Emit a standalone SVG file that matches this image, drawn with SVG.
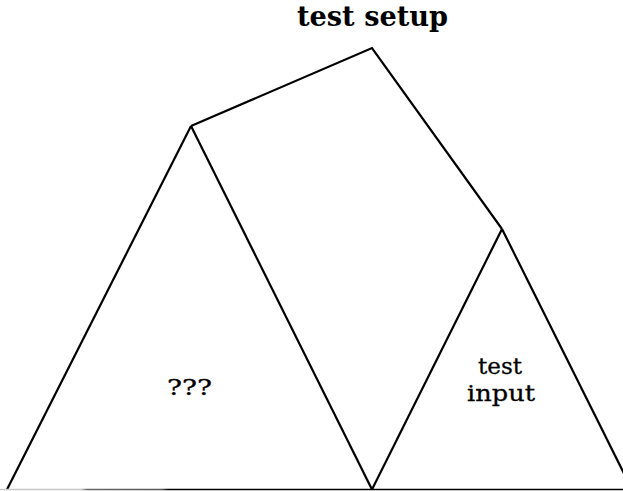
<svg xmlns="http://www.w3.org/2000/svg" width="623" height="491" viewBox="0 0 623 491">
  <style>
    .edge { fill: none; stroke: #000; stroke-width: 2.2; stroke-linejoin: miter; stroke-linecap: butt; }
    .label { font-family: "DejaVu Serif", "Liberation Serif", serif; fill: #000; text-anchor: middle; }
    .title { font-weight: bold; font-size: 27px; }
    .body { font-size: 23px; stroke: #000; stroke-width: 0.3; }
  </style>
  <defs>
    <linearGradient id="baseFade" x1="0" y1="0" x2="623" y2="0" gradientUnits="userSpaceOnUse">
      <stop offset="0" stop-color="#c8c8c8"/>
      <stop offset="0.13" stop-color="#c8c8c8"/>
      <stop offset="0.14" stop-color="#666"/>
      <stop offset="0.26" stop-color="#555"/>
      <stop offset="0.27" stop-color="#000"/>
      <stop offset="1" stop-color="#000"/>
    </linearGradient>
  </defs>

  <rect width="623" height="491" fill="#fff"/>

  <g id="connectors">
    <!-- roof -->
    <polyline class="edge" points="191,126 372,48 502,229"/>
    <!-- left triangle -->
    <line class="edge" x1="191" y1="126" x2="7" y2="489.5"/>
    <line class="edge" x1="191" y1="126" x2="372" y2="489.5"/>
    <!-- right triangle -->
    <line class="edge" x1="502" y1="229" x2="372" y2="489.5"/>
    <line class="edge" x1="502" y1="229" x2="632" y2="489.5"/>
    <!-- ground line -->
    <line x1="0" y1="489.5" x2="623" y2="489.5" stroke="url(#baseFade)" stroke-width="1.6"/>
  </g>

  <g id="test-setup">
    <text class="label title" x="372.5" y="26" textLength="151" lengthAdjust="spacingAndGlyphs">test setup</text>
  </g>

  <g id="unknown">
    <text class="label body" x="189.5" y="395" font-size="30" textLength="45" lengthAdjust="spacingAndGlyphs">???</text>
  </g>

  <g id="test-input">
    <text class="label body"><tspan x="500" y="374" textLength="44" lengthAdjust="spacingAndGlyphs">test</tspan><tspan x="501" y="401" textLength="68" lengthAdjust="spacingAndGlyphs">input</tspan></text>
  </g>
</svg>
